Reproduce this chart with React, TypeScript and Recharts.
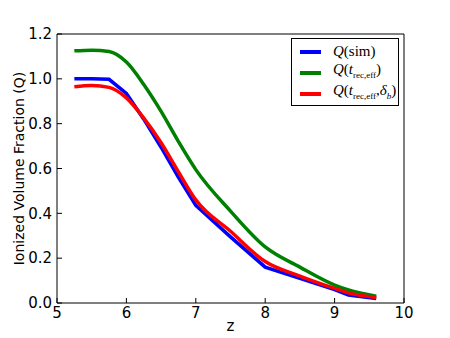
import { LineChart, Line, XAxis, YAxis } from 'recharts';

// redshift samples
const z = [5.25, 5.5, 5.75, 6.0, 6.25, 6.5, 6.75, 7.0, 7.5, 8.0, 8.5, 9.0, 9.2, 9.6];
const qSim = [1.0, 1.0, 0.998, 0.935, 0.82, 0.695, 0.56, 0.435, 0.295, 0.16, 0.11, 0.06, 0.035, 0.02];
const qEff = [1.125, 1.128, 1.122, 1.075, 0.975, 0.855, 0.72, 0.595, 0.41, 0.25, 0.16, 0.08, 0.058, 0.03];
const qEffDelta = [0.965, 0.97, 0.962, 0.915, 0.825, 0.715, 0.585, 0.46, 0.32, 0.185, 0.12, 0.065, 0.045, 0.025];

const xTicks = [5, 6, 7, 8, 9, 10];
const yTicks = [0, 0.2, 0.4, 0.6, 0.8, 1.0, 1.2];

const data = z.map((v, i) => ({ z: v, sim: qSim[i], eff: qEff[i], effd: qEffDelta[i] }));

const font = 'DejaVu Sans, sans-serif';
const math = { fontFamily: 'Liberation Serif, serif', fontSize: 15 };

function LegendBox() {
  const sub = { fontSize: 9 };
  const rows = [
    { color: '#0000ff', label: <span><i>Q</i>(sim)</span> },
    { color: '#008000', label: <span><i>Q</i>(<i>t</i><sub style={sub}>rec,eff</sub>)</span> },
    { color: '#ff0000', label: <span><i>Q</i>(<i>t</i><sub style={sub}>rec,eff</sub>,<i>δ</i><sub style={sub}><i>b</i></sub>)</span> },
  ];
  return (
    <div style={{ position: 'absolute', left: 291, top: 38, border: '1px solid #000', background: '#fff', width: 106, height: 64, paddingTop: 2 }}>
      {rows.map((r, i) => (
        <div key={i} style={{ display: 'flex', alignItems: 'center', height: 21, ...math }}>
          <div style={{ width: 21, height: 4, background: r.color, marginLeft: 8, marginRight: 12 }} />
          <div style={{ lineHeight: '15px', whiteSpace: 'nowrap' }}>{r.label}</div>
        </div>
      ))}
    </div>
  );
}

export default function App() {
  return (
    <div style={{ position: 'absolute', left: 0, top: 0, width: 450, height: 338, background: '#fff' }}>
      <LineChart width={450} height={338} data={data} margin={{ top: 0, right: 0, bottom: 0, left: 0 }}>
        <XAxis
          dataKey="z"
          type="number"
          domain={[5, 10]}
          ticks={xTicks}
          height={35}
          tickSize={-5}
          tickMargin={9}
          axisLine={{ stroke: '#000' }}
          tickLine={{ stroke: '#000' }}
          tick={{ fill: '#000', fontSize: 15, fontFamily: font }}
          label={{ value: 'z', position: 'insideBottom', offset: 7, fill: '#000', fontSize: 15, fontFamily: font }}
        />
        <XAxis
          xAxisId="top"
          orientation="top"
          dataKey="z"
          type="number"
          domain={[5, 10]}
          ticks={xTicks}
          height={34}
          tickSize={-5}
          tick={false}
          axisLine={{ stroke: '#000' }}
          tickLine={{ stroke: '#000' }}
        />
        <YAxis
          type="number"
          domain={[0, 1.2]}
          ticks={yTicks}
          width={57}
          tickSize={-5}
          tickMargin={10}
          tickFormatter={(v: number) => v.toFixed(1)}
          axisLine={{ stroke: '#000' }}
          tickLine={{ stroke: '#000' }}
          tick={{ fill: '#000', fontSize: 15, fontFamily: font }}
          label={{ value: 'Ionized Volume Fraction (Q)', angle: -90, position: 'insideLeft', offset: 19, fill: '#000', fontSize: 14, fontFamily: font, style: { textAnchor: 'middle' } }}
        />
        <YAxis
          yAxisId="right"
          orientation="right"
          type="number"
          domain={[0, 1.2]}
          ticks={yTicks}
          width={46}
          tickSize={-5}
          tick={false}
          axisLine={{ stroke: '#000' }}
          tickLine={{ stroke: '#000' }}
        />
        <Line dataKey="sim" type="linear" stroke="#0000ff" strokeWidth={3.5} dot={false} isAnimationActive={false} />
        <Line dataKey="eff" type="monotone" stroke="#008000" strokeWidth={3.5} dot={false} isAnimationActive={false} />
        <Line dataKey="effd" type="monotone" stroke="#ff0000" strokeWidth={3.5} dot={false} isAnimationActive={false} />
      </LineChart>
      <LegendBox />
    </div>
  );
}
